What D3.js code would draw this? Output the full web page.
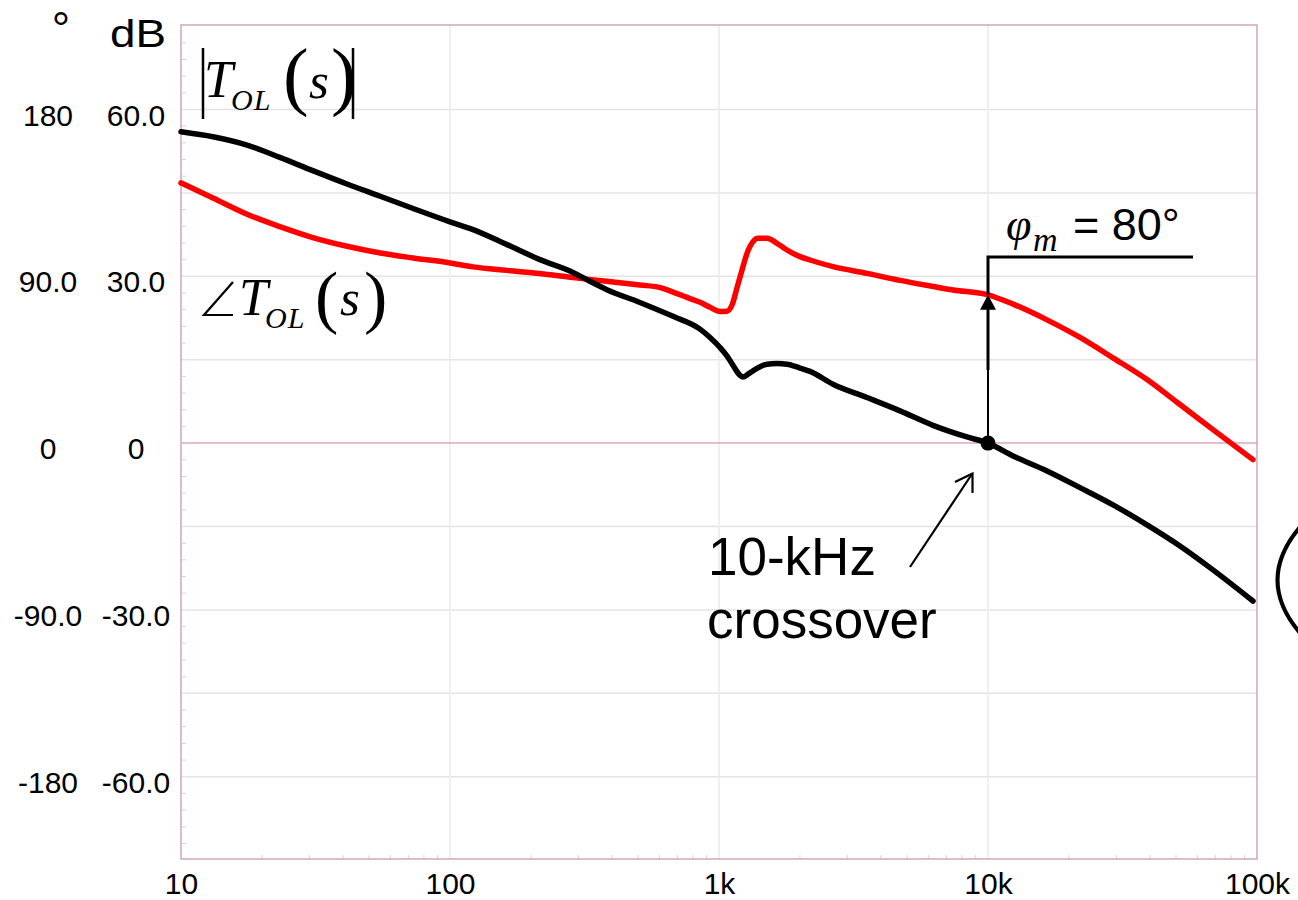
<!DOCTYPE html>
<html>
<head>
<meta charset="utf-8">
<script src="https://cdn.jsdelivr.net/npm/d3@7"></script>
<style>
  html, body { margin: 0; padding: 0; background: #fff; }
  svg { display: block; }
</style>
</head>
<body>
<svg id="chart" width="1298" height="900"></svg>
<script>
// ---- Data: open-loop gain |T_OL(s)| in dB and phase ∠T_OL(s) in degrees ----
const magFreq = [10, 13.15, 17.6, 23.3, 30.9, 41.4, 55, 72.9, 100, 121.8, 162.9, 216, 286.6, 331, 383, 508, 675, 850, 926, 1009, 1070, 1127, 1197, 1228, 1283, 1338, 1415, 1508, 1643, 1790, 2000, 2180, 2654, 3548, 4709, 6245, 8356, 10000, 12390, 16570, 21980, 29150, 39000, 51730, 68600, 96600];
const magDb = [56.0, 55.1, 53.6, 51.4, 49.0, 46.6, 44.4, 42.2, 39.8, 38.4, 35.7, 33.0, 30.7, 29.1, 27.6, 25.3, 22.8, 20.5, 19.0, 17.2, 15.7, 14.0, 12.2, 11.9, 12.4, 13.0, 13.7, 14.2, 14.3, 14.2, 13.5, 12.9, 10.6, 8.2, 5.8, 3.2, 1.1, 0, -2.3, -5.0, -8.0, -11.1, -14.7, -18.5, -22.8, -28.4];

const phaseFreq = [10, 13.15, 17.6, 23.3, 30.9, 41.4, 55, 72.9, 100, 121.8, 162.9, 216, 286.6, 383, 508, 600, 675, 780, 850, 926, 1009, 1070, 1118, 1166, 1218, 1271, 1338, 1396, 1508, 1643, 1790, 2000, 2180, 2654, 3548, 4709, 6245, 7413, 10000, 12390, 16570, 21980, 29150, 39000, 51730, 68600, 96600];
const phaseDeg = [140.4, 132.3, 123.5, 116.8, 110.9, 106.2, 102.6, 99.9, 97.2, 95.1, 93.2, 91.5, 89.3, 87.3, 85.3, 84.0, 81.5, 78.0, 76.0, 73.3, 71.0, 71.2, 74.5, 83.7, 93.4, 102.4, 108.7, 110.5, 110.5, 107.8, 104.2, 100.6, 98.8, 95.2, 91.6, 87.8, 84.5, 82.6, 80, 75.0, 66.5, 57.0, 46.0, 34.3, 20.8, 7.3, -8.9];

// Axis ticks and their labels
const freqTicks = [10, 100, 1000, 10000, 100000];
const freqTickLabels = ["10", "100", "1k", "10k", "100k"];
const dbTicks = [-60, -30, 0, 30, 60];
const dbTickLabels = ["-60.0", "-30.0", "0", "30.0", "60.0"];
const degTicks = [-180, -90, 0, 90, 180];
const degTickLabels = ["-180", "-90.0", "0", "90.0", "180"];
const dbGrid = [-60, -45, -30, -15, 15, 30, 45, 60];

// Crossover annotation
const crossoverFreq = 10000;
const phaseMarginLabel = "80°";

// ---- Layout ----
const plotLeft = 181, plotRight = 1257, plotTop = 25, plotBottom = 859;
const plotW = plotRight - plotLeft;

const svg = d3.select("#chart");
const SANS = "'Liberation Sans', Arial, sans-serif";
const SERIF = "'Liberation Serif', 'Times New Roman', serif";

const x = d3.scaleLog().domain([10, 100000]).range([plotLeft, plotRight]);
const yDb = d3.scaleLinear().domain([-74.8, 75.2]).range([plotBottom, plotTop]);
const yDeg = d3.scaleLinear().domain([-224.4, 225.6]).range([plotBottom, plotTop]);

// ---- Grid ----
const gridG = svg.append("g");
gridG.selectAll("line.h").data(dbGrid).join("line")
  .attr("x1", plotLeft).attr("x2", plotRight)
  .attr("y1", d => yDb(d)).attr("y2", d => yDb(d))
  .attr("stroke", "#e4e4e4").attr("stroke-width", 1.5);
gridG.selectAll("line.v").data(freqTicks.slice(1, -1)).join("line")
  .attr("x1", d => x(d)).attr("x2", d => x(d))
  .attr("y1", plotTop).attr("y2", plotBottom)
  .attr("stroke", "#ebebeb").attr("stroke-width", 1.5);

// minor ticks on the left edge (every 3 dB)
const minorDb = d3.range(-72, 75, 3).filter(d => d % 15 !== 0);
gridG.selectAll("line.mt").data(minorDb).join("line")
  .attr("x1", plotLeft + 1).attr("x2", plotLeft + 5)
  .attr("y1", d => yDb(d)).attr("y2", d => yDb(d))
  .attr("stroke", "#d4d4d4").attr("stroke-width", 1);

// minor ticks along the bottom edge (2..9 in each decade)
const minorFreq = [];
[10, 100, 1000, 10000].forEach(dec => { for (let k = 2; k <= 9; k++) minorFreq.push(dec * k); });
gridG.selectAll("line.bt").data(minorFreq).join("line")
  .attr("x1", d => x(d)).attr("x2", d => x(d))
  .attr("y1", plotBottom - 4).attr("y2", plotBottom)
  .attr("stroke", "#d4d4d4").attr("stroke-width", 1);

// 0 dB reference line
svg.append("line")
  .attr("x1", plotLeft).attr("x2", plotRight)
  .attr("y1", yDb(0)).attr("y2", yDb(0))
  .attr("stroke", "#dba6c6").attr("stroke-width", 1.5);

// plot frame
svg.append("rect")
  .attr("x", plotLeft).attr("y", plotTop).attr("width", plotW).attr("height", plotBottom - plotTop)
  .attr("fill", "none").attr("stroke", "#cfa6bc").attr("stroke-width", 1.5);

// ---- Axes (labels only) ----
const xAxis = svg.append("g").attr("transform", `translate(0,${plotBottom})`)
  .call(d3.axisBottom(x).tickValues(freqTicks).tickSize(0).tickFormat((d, i) => freqTickLabels[i]));
xAxis.select(".domain").remove();
xAxis.selectAll("text").attr("font-family", SANS).attr("font-size", 30).attr("fill", "#000")
  .attr("dy", null).attr("y", 35);

const dbAxis = svg.append("g")
  .call(d3.axisLeft(yDb).tickValues(dbTicks).tickSize(0).tickFormat((d, i) => dbTickLabels[i]));
dbAxis.select(".domain").remove();
dbAxis.selectAll("text").attr("font-family", SANS).attr("font-size", 30).attr("fill", "#000")
  .attr("text-anchor", "middle").attr("x", 136).attr("dy", null).attr("y", 15.5);

const degAxis = svg.append("g")
  .call(d3.axisLeft(yDeg).tickValues(degTicks).tickSize(0).tickFormat((d, i) => degTickLabels[i]));
degAxis.select(".domain").remove();
degAxis.selectAll("text").attr("font-family", SANS).attr("font-size", 30).attr("fill", "#000")
  .attr("text-anchor", "middle").attr("x", 48).attr("dy", null).attr("y", 15.5);

// unit headers
svg.append("text").attr("x", 61).attr("y", 45).attr("text-anchor", "middle")
  .attr("font-family", SANS).attr("font-size", 46).text("°");
svg.append("text").attr("x", 110).attr("y", 47)
  .attr("font-family", SANS).attr("font-size", 38)
  .attr("textLength", 56).attr("lengthAdjust", "spacingAndGlyphs").text("dB");

// ---- Curves ----
const magLine = d3.line()
  .x((d, i) => x(magFreq[i])).y(d => yDb(d))
  .curve(d3.curveMonotoneX);
const phaseLine = d3.line()
  .x((d, i) => x(phaseFreq[i])).y(d => yDeg(d))
  .curve(d3.curveMonotoneX);

svg.append("path").attr("d", phaseLine(phaseDeg))
  .attr("fill", "none").attr("stroke", "#ff0000").attr("stroke-width", 5.5)
  .attr("stroke-linejoin", "round").attr("stroke-linecap", "round");
svg.append("path").attr("d", magLine(magDb))
  .attr("fill", "none").attr("stroke", "#000").attr("stroke-width", 5.5)
  .attr("stroke-linejoin", "round").attr("stroke-linecap", "round");

// ---- Crossover / phase margin annotation ----
const cx = x(crossoverFreq);
const cy = yDb(magDb[magFreq.indexOf(crossoverFreq)]);
const pmY = yDeg(phaseDeg[phaseFreq.indexOf(crossoverFreq)]);
const bracketY = 257;

svg.append("line").attr("x1", cx).attr("x2", cx).attr("y1", cy).attr("y2", 370)
  .attr("stroke", "#000").attr("stroke-width", 2);
svg.append("line").attr("x1", cx).attr("x2", cx).attr("y1", 370).attr("y2", pmY + 12)
  .attr("stroke", "#000").attr("stroke-width", 3);
svg.append("path")
  .attr("d", `M${cx},${pmY} L${cx - 8},${pmY + 15} L${cx + 8},${pmY + 15} Z`)
  .attr("fill", "#000");
svg.append("path")
  .attr("d", `M${cx},${pmY} L${cx},${bracketY} L1193,${bracketY}`)
  .attr("fill", "none").attr("stroke", "#000").attr("stroke-width", 3);
svg.append("circle").attr("cx", cx).attr("cy", cy).attr("r", 7.5).attr("fill", "#000");

// φm = 80°
const pmText = svg.append("text").attr("font-family", SANS).attr("font-size", 45);
pmText.append("tspan").attr("x", 1006).attr("y", 240)
  .attr("font-family", SERIF).attr("font-style", "italic").attr("font-size", 46).text("φ");
pmText.append("tspan").attr("x", 1033).attr("y", 251)
  .attr("font-family", SERIF).attr("font-style", "italic").attr("font-size", 34).text("m");
pmText.append("tspan").attr("x", 1073).attr("y", 239.5).text("= " + phaseMarginLabel);

// 10-kHz crossover label and pointer
const coText = svg.append("text").attr("font-family", SANS).attr("font-size", 53);
coText.append("tspan").attr("x", 708).attr("y", 575).text("10-kHz");
coText.append("tspan").attr("x", 707).attr("y", 638).text("crossover");
svg.append("line").attr("x1", 910).attr("y1", 567).attr("x2", 972).attr("y2", 474)
  .attr("stroke", "#000").attr("stroke-width", 2.2);
svg.append("path").attr("d", "M955,482 L972.5,473.5 L972.5,493")
  .attr("fill", "none").attr("stroke", "#000").attr("stroke-width", 2.2);

// ---- Series labels ----
// |T_OL(s)|
const magLbl = svg.append("g");
magLbl.append("line").attr("x1", 203).attr("x2", 203).attr("y1", 48).attr("y2", 119)
  .attr("stroke", "#000").attr("stroke-width", 2.5);
magLbl.append("line").attr("x1", 353).attr("x2", 353).attr("y1", 48).attr("y2", 119)
  .attr("stroke", "#000").attr("stroke-width", 2.5);
const magText = magLbl.append("text").attr("font-family", SERIF);
magText.append("tspan").attr("x", 204).attr("y", 97)
  .attr("font-style", "italic").attr("font-size", 52).text("T");
magText.append("tspan").attr("x", 231).attr("y", 110).attr("letter-spacing", 1)
  .attr("font-style", "italic").attr("font-size", 30).text("OL");
magText.append("tspan").attr("x", 283).attr("y", 101)
  .attr("font-size", 77).text("(");
magText.append("tspan").attr("x", 309).attr("y", 98)
  .attr("font-style", "italic").attr("font-size", 51).text("s");
magText.append("tspan").attr("x", 331).attr("y", 101)
  .attr("font-size", 77).text(")");

// ∠T_OL(s)
const phLbl = svg.append("g");
phLbl.append("path").attr("d", "M233,282 L204,315 L233,315")
  .attr("fill", "none").attr("stroke", "#000").attr("stroke-width", 2.2);
const phText = phLbl.append("text").attr("font-family", SERIF);
phText.append("tspan").attr("x", 239).attr("y", 315)
  .attr("font-style", "italic").attr("font-size", 52).text("T");
phText.append("tspan").attr("x", 265).attr("y", 328).attr("letter-spacing", 1)
  .attr("font-style", "italic").attr("font-size", 30).text("OL");
phText.append("tspan").attr("x", 315).attr("y", 320)
  .attr("font-size", 70).text("(");
phText.append("tspan").attr("x", 340).attr("y", 315)
  .attr("font-style", "italic").attr("font-size", 51).text("s");
phText.append("tspan").attr("x", 364).attr("y", 320)
  .attr("font-size", 70).text(")");

// opening bracket of a neighbouring expression, cut by the page edge
svg.append("path").attr("d", "M1300,527 Q1255,580 1300,633")
  .attr("fill", "none").attr("stroke", "#000").attr("stroke-width", 4);
</script>
</body>
</html>
